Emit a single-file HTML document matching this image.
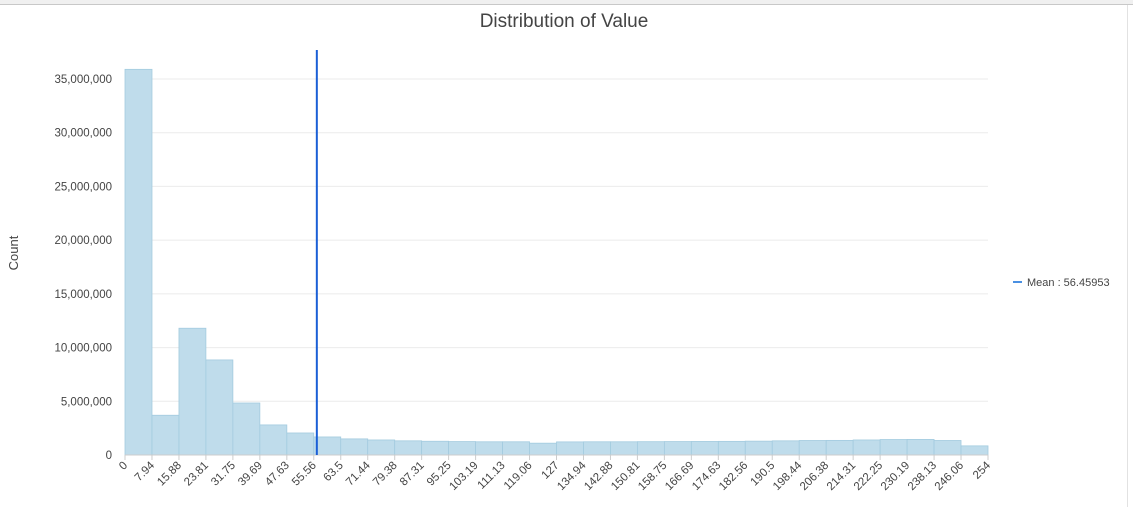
<!DOCTYPE html>
<html><head><meta charset="utf-8"><style>
body{margin:0;background:#fff;font-family:"Liberation Sans",sans-serif;}
svg text{font-family:"Liberation Sans",sans-serif;fill:#444;}
</style></head><body>
<svg width="1133" height="507">
<rect x="0" y="0" width="1133" height="5" fill="#f0f0f0"/>
<line x1="0" y1="4.5" x2="1133" y2="4.5" stroke="#c8c8c8"/>
<line x1="1127.5" y1="5" x2="1127.5" y2="507" stroke="#e2e2e2"/>
<text x="564" y="27" text-anchor="middle" font-size="19" style="fill:#444">Distribution of Value</text>
<text x="0" y="0" transform="translate(18,253) rotate(-90)" text-anchor="middle" font-size="13">Count</text>
<g id="grid"></g><g id="bars"></g><g id="xaxis"></g><g id="yaxis"></g><g id="mean"></g>
<line x1="1013" y1="282" x2="1022" y2="282" stroke="#4a90e2" stroke-width="2"/>
<text x="1027" y="286" font-size="11">Mean : 56.45953</text>
</svg>
<script>
const binEdges=[0,7.94,15.88,23.81,31.75,39.69,47.63,55.56,63.5,71.44,79.38,87.31,95.25,103.19,111.13,119.06,127,134.94,142.88,150.81,158.75,166.69,174.63,182.56,190.5,198.44,206.38,214.31,222.25,230.19,238.13,246.06,254];
const counts=[35900000,3700000,11800000,8850000,4840000,2800000,2050000,1680000,1500000,1400000,1320000,1280000,1250000,1230000,1230000,1100000,1220000,1230000,1230000,1240000,1250000,1260000,1270000,1290000,1320000,1350000,1360000,1400000,1440000,1450000,1350000,850000];
const yTicks=[0,5000000,10000000,15000000,20000000,25000000,30000000,35000000];
const meanValue=56.45953;
const X0=125,X1=988,Y0=455,Y35=79;
const xs=v=>X0+(v-0)/254*(X1-X0);
const ys=v=>Y0-v/35000000*(Y0-Y35);
const NS='http://www.w3.org/2000/svg';
function mk(t,a,p){const e=document.createElementNS(NS,t);for(const k in a)e.setAttribute(k,a[k]);p.appendChild(e);return e;}
const g=document.getElementById('grid'),b=document.getElementById('bars'),xa=document.getElementById('xaxis'),ya=document.getElementById('yaxis'),m=document.getElementById('mean');
yTicks.forEach(v=>{
 if(v>0){const l=mk('line',{x1:X0,x2:X1,y1:ys(v),y2:ys(v),stroke:'#ebebeb'},g);
 
 }
 const t=mk('text',{x:112,y:ys(v)+4,'text-anchor':'end','font-size':'11.5'},ya);
 t.textContent=v.toLocaleString('en-US');
 
 
});
counts.forEach((c,i)=>{
 const x=xs(binEdges[i]),w=xs(binEdges[i+1])-x;
 const r=mk('rect',{x:x,y:ys(c),width:w,height:Y0-ys(c),fill:'#bfdceb',stroke:'#a3cbdf','stroke-width':0.8},b);
 
 
});
mk('line',{x1:X0,x2:X1,y1:Y0,y2:Y0,stroke:'#ccc'},xa);
binEdges.forEach(v=>{
 const x=xs(v);
 mk('line',{x1:x,x2:x,y1:Y0,y2:Y0+5,stroke:'#ccc'},xa);
 const t=mk('text',{x:0,y:0,'text-anchor':'end','font-size':'11.5',transform:`translate(${x+3},${Y0+11}) rotate(-45)`},xa);
 t.textContent=String(v);
 
 
});
const ml=mk('line',{x1:xs(meanValue),x2:xs(meanValue),y1:50,y2:Y0,stroke:'#1a5fd6','stroke-width':2},m);


</script>
</body></html>
